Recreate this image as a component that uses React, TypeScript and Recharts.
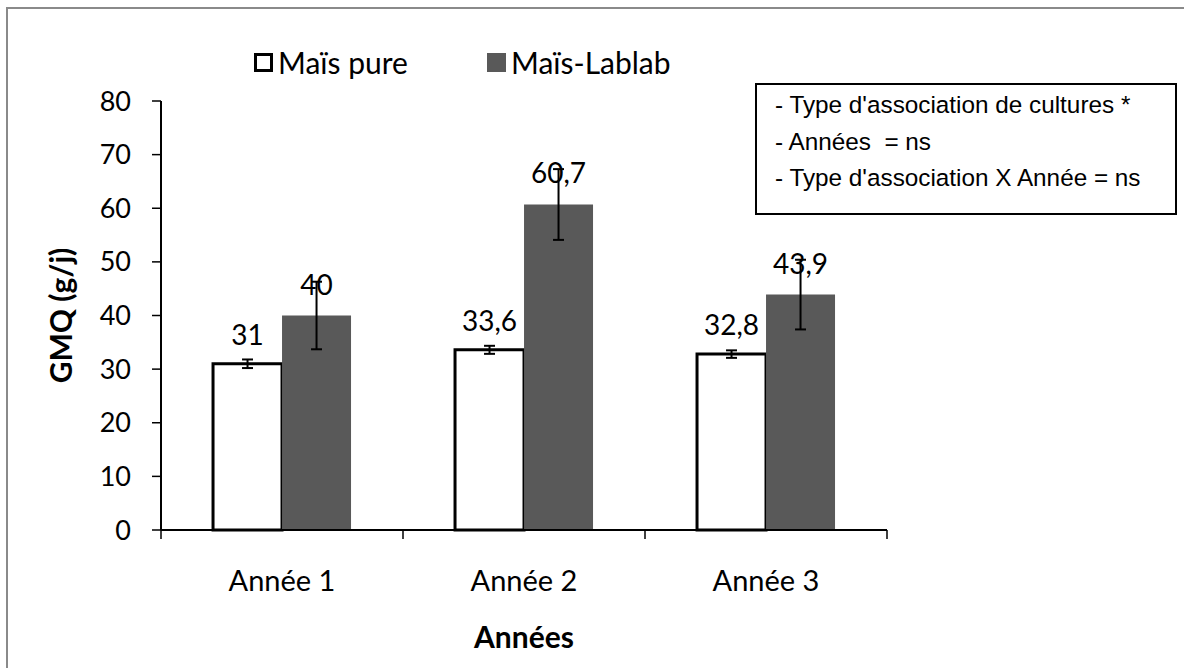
import React from 'react';
import { BarChart, Bar, XAxis, YAxis, ErrorBar, LabelList, Legend, Label } from 'recharts';

// ---- data ----
const categories = ['Année 1', 'Année 2', 'Année 3'];
const maisPure = [31, 33.6, 32.8];
const maisPureErr = [0.8, 0.75, 0.7];
const maisLablab = [40, 60.7, 43.9];
const maisLablabErr = [6.3, 6.6, 6.5];
const yTicks = [0, 10, 20, 30, 40, 50, 60, 70, 80];
const seriesNames = ['Maïs pure', 'Maïs-Lablab'];
const yTitle = 'GMQ (g/j)';
const xTitle = 'Années';
const annotationLines = [
  "- Type d'association de cultures *",
  '- Années  = ns',
  "- Type d'association X Année = ns",
];

const data = categories.map((c, i) => ({
  cat: c,
  pure: maisPure[i],
  pureErr: maisPureErr[i],
  lablab: maisLablab[i],
  lablabErr: maisLablabErr[i],
}));

// ---- styles ----
const FONT = 'Lato, "Open Sans", sans-serif';
const PURE_FILL = '#ffffff';
const LABLAB_FILL = '#595959';

const fmt = (v: any) => String(v).replace('.', ',');

const XTick = (props: any) => {
  const { x, y, payload, index, visibleTicksCount, width } = props;
  const half =
    payload && typeof payload.offset === 'number' && payload.offset > 0
      ? payload.offset
      : width / (visibleTicksCount || 1) / 2;
  return (
    <g>
      <line x1={x - half} x2={x - half} y1={y} y2={y + 9} stroke="#000" strokeWidth={1.5} />
      {index === visibleTicksCount - 1 && (
        <line x1={x + half} x2={x + half} y1={y} y2={y + 9} stroke="#000" strokeWidth={1.5} />
      )}
      <text x={x} y={y + 61} textAnchor="middle" fontFamily={FONT} fontSize={29} fill="#000">
        {payload.value}
      </text>
    </g>
  );
};

const YTitle = (props: any) => {
  const vb = props.viewBox || {};
  const x = (vb.x || 0) + 72;
  const y = (vb.y || 0) + (vb.height || 0) / 2;
  return (
    <text
      x={x}
      y={y}
      transform={`rotate(-90, ${x}, ${y})`}
      textAnchor="middle"
      fontFamily={FONT}
      fontWeight="bold"
      fontSize={30}
      fill="#000"
    >
      {yTitle}
    </text>
  );
};

const XTitle = (props: any) => {
  const vb = props.viewBox || {};
  return (
    <text
      x={(vb.x || 0) + (vb.width || 0) / 2}
      y={(vb.y || 0) + 118}
      textAnchor="middle"
      fontFamily={FONT}
      fontWeight="bold"
      fontSize={30}
      fill="#000"
    >
      {xTitle}
    </text>
  );
};

const LegendContent = (props: any) => {
  const payload = props.payload || [];
  return (
    <div style={{ display: 'flex', flexDirection: 'row' }}>
      {payload.map((entry: any) => {
        const isPure = entry.dataKey === 'pure';
        return (
          <div
            key={String(entry.dataKey)}
            style={{ display: 'flex', alignItems: 'center', width: 233 }}
          >
            <div
              style={{
                width: 19,
                height: 19,
                boxSizing: 'border-box',
                background: isPure ? PURE_FILL : LABLAB_FILL,
                border: isPure ? '3px solid #000' : 'none',
                marginRight: 5,
                flex: '0 0 auto',
              }}
            />
            <span
              style={{
                fontFamily: FONT,
                fontSize: 30,
                lineHeight: '34px',
                color: '#000',
                whiteSpace: 'nowrap',
              }}
            >
              {entry.value}
            </span>
          </div>
        );
      })}
    </div>
  );
};

export default function App() {
  return (
    <div
      style={{
        position: 'absolute',
        left: 0,
        top: 0,
        width: 1184,
        height: 668,
        overflow: 'hidden',
        background: '#fff',
      }}
    >
      <div
        style={{
          position: 'absolute',
          left: 6,
          top: 7,
          width: 1300,
          height: 800,
          border: '2px solid #8a8a8a',
        }}
      />
      <div style={{ position: 'absolute', left: 0, top: 0 }}>
        <BarChart
          width={1184}
          height={668}
          data={data}
          margin={{ top: 101, right: 297, bottom: 0, left: 0 }}
          barCategoryGap="21.5%"
          barGap={0}
        >
          <XAxis
            dataKey="cat"
            height={138}
            interval={0}
            tickLine={false}
            tickSize={0}
            tickMargin={0}
            axisLine={{ stroke: '#000', strokeWidth: 2 }}
            tick={<XTick />}
          >
            <Label content={<XTitle />} />
          </XAxis>
          <YAxis
            width={161}
            domain={[0, 80]}
            ticks={yTicks}
            interval={0}
            tickSize={9}
            tickMargin={21}
            axisLine={{ stroke: '#000', strokeWidth: 2 }}
            tickLine={{ stroke: '#000', strokeWidth: 1.5 }}
            tick={{ fill: '#000', fontSize: 27, fontFamily: FONT }}
          >
            <Label content={<YTitle />} />
          </YAxis>
          <Legend
            layout="horizontal"
            verticalAlign="middle"
            align="center"
            content={<LegendContent />}
            wrapperStyle={{ position: 'absolute', left: 254, top: 45, width: 'auto', height: 'auto' }}
          />
          <Bar
            dataKey="pure"
            name={seriesNames[0]}
            fill={PURE_FILL}
            stroke="#000"
            strokeWidth={3}
            isAnimationActive={false}
          >
            <ErrorBar dataKey="pureErr" width={5.5} stroke="#000" strokeWidth={2} isAnimationActive={false} />
            <LabelList
              dataKey="pure"
              position="top"
              offset={19}
              formatter={fmt}
              style={{ fill: '#000', fontSize: 28, fontFamily: FONT }}
            />
          </Bar>
          <Bar dataKey="lablab" name={seriesNames[1]} fill={LABLAB_FILL} isAnimationActive={false}>
            <ErrorBar dataKey="lablabErr" width={5.5} stroke="#000" strokeWidth={2} isAnimationActive={false} />
            <LabelList
              dataKey="lablab"
              position="top"
              offset={21}
              formatter={fmt}
              style={{ fill: '#000', fontSize: 28, fontFamily: FONT }}
            />
          </Bar>
        </BarChart>
      </div>
      <div
        style={{
          position: 'absolute',
          left: 755,
          top: 83,
          width: 422,
          height: 132,
          boxSizing: 'border-box',
          border: '2px solid #000',
          background: '#fff',
          fontFamily: '"Liberation Sans", Arial, sans-serif',
          fontSize: 24.3,
          color: '#000',
          paddingLeft: 18,
          paddingTop: 2,
          lineHeight: '36.5px',
        }}
      >
        {annotationLines.map((l, i) => (
          <div key={i} style={{ whiteSpace: 'pre' }}>
            {l}
          </div>
        ))}
      </div>
    </div>
  );
}
